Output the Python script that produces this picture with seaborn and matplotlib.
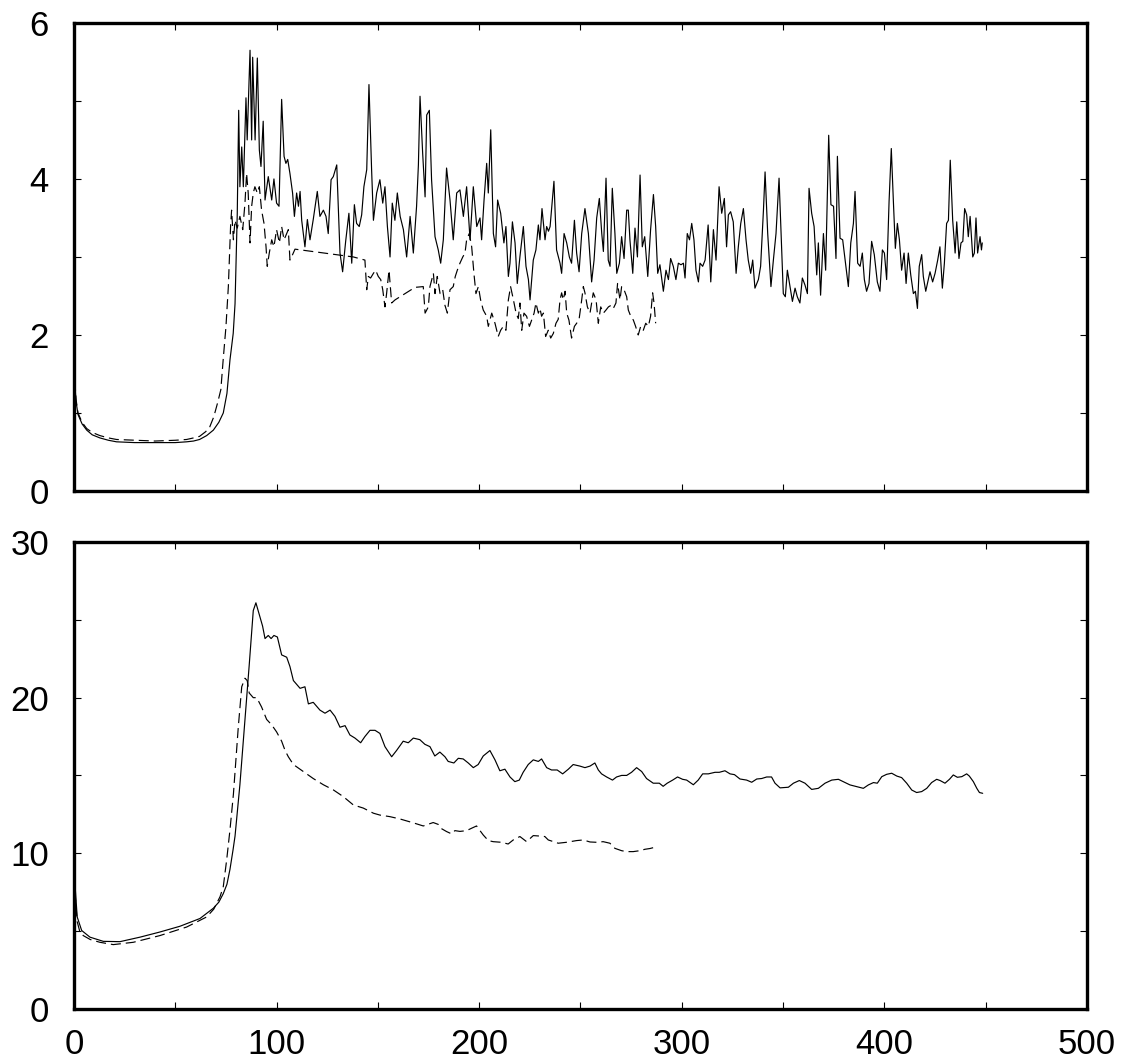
import numpy as np
import pandas as pd
import matplotlib
matplotlib.use("Agg")
import matplotlib.pyplot as plt
import seaborn as sns
from matplotlib.ticker import MultipleLocator

sns.set_theme(style="white")
plt.rcParams['font.family'] = ['Liberation Sans', 'DejaVu Sans']

# (x, y) points
top_solid = [
    (0, 1.75), (0.5, 1.35), (1, 1.15), (2, 0.98), (4, 0.86), (6.3, 0.78), (9, 0.72), (12.8, 0.68),
    (17, 0.65), (21, 0.63), (30, 0.62), (40, 0.62), (50, 0.62), (55.6, 0.63), (59, 0.64), (62, 0.66),
    (65.5, 0.71), (68.8, 0.78), (71.5, 0.88), (73.7, 1.0), (75.5, 1.25), (77, 1.68), (78.6, 2.02),
    (79.5, 2.4), (80.6, 3.56), (81.3, 4.88), (81.9, 3.9), (82.8, 4.41), (83.6, 3.9), (84.9, 5.04),
    (85.5, 4.5), (86.9, 5.65), (87.7, 4.5), (88.2, 5.56), (89.4, 4.5), (90.5, 5.55), (91.5, 4.37),
    (92.3, 4.16), (93.4, 4.74), (94.3, 3.73), (95.9, 4.03), (97.6, 3.73), (98.7, 4.0), (100, 3.69),
    (101.2, 3.65), (102.5, 5.02), (103.7, 4.29), (104.6, 4.2), (105.5, 4.25), (106.6, 4.07),
    (107.9, 3.82), (108.8, 3.52), (109.9, 3.82), (110.8, 3.65), (111.6, 3.84), (112.4, 3.47),
    (113.2, 3.3), (114, 3.13), (115.2, 3.48), (116.5, 3.22), (118.1, 3.48), (120.1, 3.84),
    (121.4, 3.52), (123.1, 3.6), (124.4, 3.52), (125.5, 3.3), (126.9, 3.99), (128, 4.03),
    (129.7, 4.18), (131.3, 3.05), (132.6, 2.81), (134.1, 3.2), (135.7, 3.56), (137.1, 2.92),
    (138.4, 3.67), (139.5, 3.43), (140.8, 3.39), (142, 3.54), (143.1, 3.9), (144.5, 4.12),
    (145.6, 5.21), (146.9, 4.12), (147.8, 3.47), (149.4, 3.82), (151, 3.99), (152.4, 3.69),
    (153.5, 3.9), (154.7, 3.39), (156, 3.0), (157.1, 3.69), (158.4, 3.47), (159.6, 3.82),
    (161, 3.52), (162.6, 3.35), (164.2, 3.0), (165.9, 3.52), (167.5, 3.05), (169.1, 3.65),
    (170, 4.18), (170.8, 5.06), (172.1, 4.33), (173.3, 3.77), (174.1, 4.82), (175.4, 4.88),
    (176.5, 3.99), (178.2, 3.26), (179.8, 3.09), (181, 2.92), (182.3, 3.22), (183.9, 4.14),
    (185.6, 3.73), (187.2, 3.22), (188.9, 3.82), (190.5, 3.86), (192.2, 3.52), (193.8, 3.9),
    (195.5, 3.22), (197.1, 3.9), (198.8, 3.39), (200.4, 3.5), (201.2, 3.22), (202.4, 3.73),
    (203.7, 4.2), (204.5, 3.82), (205.7, 4.63), (207, 3.3), (208.1, 3.13), (209.1, 3.73),
    (210.6, 3.56), (212.2, 3.18), (213.2, 3.39), (214.4, 2.75), (215.2, 2.92), (216.4, 3.45),
    (217.7, 3.18), (218.8, 2.66), (220.1, 3.0), (221.8, 3.39), (223.1, 2.88), (224.3, 2.71),
    (225.1, 2.45), (226.7, 2.96), (228, 3.09), (229.2, 3.41), (230, 3.22), (231, 3.62),
    (232.5, 3.22), (233.3, 3.39), (234.2, 3.33), (235, 3.39), (236.9, 3.97), (238.2, 3.09),
    (239.9, 2.92), (240.7, 2.79), (241.9, 3.3), (243.2, 3.18), (244.5, 3.0), (245.6, 2.92),
    (247, 3.47), (248.1, 3.05), (249.3, 2.81), (250.6, 3.3), (252.2, 3.62), (253.9, 3.3),
    (255.5, 2.68), (256.7, 2.96), (258, 3.5), (259.3, 3.75), (260.5, 3.3), (261.3, 3.07),
    (262.6, 4.01), (263.7, 2.96), (264.6, 2.88), (265.7, 3.88), (267, 3.3), (267.9, 2.79),
    (269.2, 2.92), (270.3, 3.26), (271.5, 2.98), (272.8, 3.6), (273.6, 3.6), (274.4, 3.22),
    (275.8, 2.79), (276.9, 3.37), (278.1, 3.0), (279.4, 4.05), (280.5, 3.13), (281.7, 3.26),
    (283.2, 2.75), (284.6, 3.35), (286, 3.8), (287.1, 3.39), (288.1, 2.79), (289.2, 2.9),
    (290.9, 2.56), (292.2, 2.83), (293.4, 2.71), (294.5, 2.98), (295.8, 2.88), (297.1, 2.71),
    (298.3, 2.92), (299.6, 2.9), (300.8, 2.92), (301.6, 2.73), (302.7, 3.3), (303.8, 3.22),
    (304.9, 3.43), (306, 3.22), (307, 2.83), (308.2, 2.68), (309, 2.92), (310.3, 2.88),
    (311.5, 2.96), (313, 3.41), (314.3, 2.68), (315.6, 3.35), (316.9, 2.96), (318.4, 3.9),
    (319.7, 3.56), (321, 3.75), (322.1, 3.13), (323, 3.54), (324.1, 3.58), (325.4, 3.45),
    (326.8, 2.79), (327.9, 3.13), (329.1, 3.43), (330.4, 3.62), (331.7, 3.22), (332.8, 2.96),
    (334, 2.79), (335, 2.96), (336.1, 2.6), (337.8, 2.71), (338.9, 2.88), (340.3, 3.6),
    (341.1, 4.09), (342.4, 3.3), (344, 2.62), (345.2, 2.96), (346.5, 3.3), (348, 4.01),
    (349, 3.3), (350.1, 2.53), (351.1, 2.49), (352.1, 2.83), (353.4, 2.62), (354.6, 2.43),
    (355.9, 2.6), (357, 2.49), (358.3, 2.41), (359.5, 2.73), (360.8, 2.64), (362, 2.53),
    (362.8, 3.88), (364.1, 3.56), (365.3, 3.39), (366.6, 2.77), (367.4, 3.18), (368.5, 2.51),
    (369.9, 3.3), (371, 2.83), (372.5, 4.56), (373.6, 3.67), (374.9, 3.65), (376.1, 2.98),
    (376.8, 4.29), (378.1, 3.24), (379.4, 3.22), (380.7, 2.94), (382.2, 2.62), (383.4, 3.18),
    (384.7, 3.43), (385.5, 3.84), (386.8, 2.92), (388, 2.88), (389.1, 3.05), (390.1, 2.71),
    (391.2, 2.56), (392.4, 2.66), (393.7, 3.2), (395, 3.03), (396.5, 2.68), (397.8, 2.56),
    (399, 3.09), (400, 3.05), (401.1, 2.71), (402.3, 3.71), (403.4, 4.39), (404.4, 3.73),
    (405.4, 3.11), (406.4, 3.43), (407.4, 3.22), (408.5, 2.83), (409.7, 3.05), (410.7, 2.66),
    (411.8, 3.05), (413, 2.77), (414.3, 2.53), (415.3, 2.56), (416.3, 2.34), (417.2, 2.88),
    (418.4, 3.03), (419.2, 2.75), (420.4, 2.56), (421.4, 2.68), (422.5, 2.81), (423.8, 2.68),
    (425, 2.79), (426.3, 2.96), (427.4, 3.13), (428.6, 2.6), (429.6, 2.92), (430.7, 3.43),
    (431.6, 3.47), (432.5, 4.24), (433.7, 3.47), (434.9, 3.05), (435.7, 3.45), (436.8, 2.98),
    (437.8, 3.18), (438.7, 3.2), (439.6, 3.62), (440.6, 3.54), (441.4, 3.26), (442.3, 3.52),
    (443.6, 3.0), (444.4, 3.05), (445.2, 3.5), (446, 3.05), (447.2, 3.26), (447.9, 3.09),
    (448.3, 3.18),
]

top_dashed = [
    (0, 1.8), (0.5, 1.4), (1, 1.18), (2, 1.0), (4, 0.88), (6.3, 0.8), (9, 0.75), (12.8, 0.71),
    (17, 0.68), (21, 0.66), (30, 0.65), (40, 0.64), (50, 0.65), (55.6, 0.66), (59, 0.68),
    (62, 0.7), (65, 0.76), (67, 0.82), (69, 0.95), (71, 1.14), (72.5, 1.3), (73.7, 1.7),
    (75, 2.1), (76.2, 2.62), (77.3, 3.39), (77.8, 3.6), (78.7, 3.22), (79.5, 3.47), (80.6, 3.37),
    (81.9, 3.52), (83.3, 3.35), (84.4, 3.69), (85.2, 4.07), (86, 3.82), (86.9, 3.18), (87.7, 3.65),
    (88.5, 3.82), (89.3, 3.9), (90.5, 3.82), (91.5, 3.9), (92.6, 3.6), (93.8, 3.43), (94.8, 3.13),
    (95.4, 2.88), (96.4, 3.05), (97.6, 3.22), (98.7, 3.13), (100, 3.35), (101.4, 3.18),
    (102.5, 3.39), (103.7, 3.22), (105, 3.3), (105.8, 3.35), (106.6, 2.96), (107.4, 3.0),
    (109.1, 3.1), (137.9, 3.0), (143.6, 2.96), (144.5, 2.58), (145.3, 2.75), (146.4, 2.73),
    (147.8, 2.79), (148.9, 2.83), (150.2, 2.75), (151.4, 2.71), (152.4, 2.58), (153.5, 2.36),
    (154.3, 2.53), (155.5, 2.83), (156.8, 2.41), (158.5, 2.45), (163.4, 2.53), (168.3, 2.61),
    (172.4, 2.62), (173.3, 2.28), (174.9, 2.36), (175.7, 2.62), (177.4, 2.79), (178.2, 2.53),
    (179.3, 2.75), (180.7, 2.53), (182, 2.58), (183.1, 2.38), (184.3, 2.28), (185.6, 2.58),
    (187.2, 2.62), (188.2, 2.75), (189.2, 2.83), (190.5, 2.92), (191.9, 3.0), (193, 3.05),
    (193.8, 3.22), (195.1, 3.3), (196.3, 3.13), (197.4, 2.79), (198.4, 2.53), (199.6, 2.62),
    (200.7, 2.45), (202, 2.32), (203.7, 2.24), (204.5, 2.11), (206.2, 2.28), (207.8, 2.15),
    (209.4, 1.98), (210.6, 2.06), (211.9, 2.11), (213.2, 2.06), (214.4, 2.45), (215.5, 2.62),
    (216.9, 2.45), (218.2, 2.28), (219.3, 2.21), (220.1, 2.41), (221, 2.06), (222.1, 2.28),
    (223.4, 2.24), (224.8, 2.11), (225.9, 2.19), (227.1, 2.28), (228, 2.41), (229.2, 2.28),
    (230, 2.34), (230.8, 2.24), (231.7, 2.28), (232.8, 1.98), (234.1, 2.06), (235.3, 1.96),
    (236.6, 2.02), (237.9, 2.15), (239, 2.2), (239.9, 2.45), (240.7, 2.54), (241.5, 2.45),
    (242.4, 2.56), (243.2, 2.28), (244.3, 2.19), (245.6, 1.96), (247, 2.11), (248.1, 2.15),
    (249.3, 2.2), (250.6, 2.45), (251.4, 2.62), (252.2, 2.54), (253.4, 2.36), (254.7, 2.28),
    (256.3, 2.54), (257.7, 2.45), (258.8, 2.15), (260, 2.36), (261.3, 2.28), (262.6, 2.32),
    (263.8, 2.36), (265.1, 2.38), (266.2, 2.34), (267.5, 2.41), (268.3, 2.66), (269.5, 2.45),
    (270.3, 2.62), (271.5, 2.58), (272.8, 2.49), (273.6, 2.32), (274.8, 2.24), (276.1, 2.19),
    (277.2, 2.11), (278.5, 2.0), (279.7, 2.11), (281, 2.06), (282.2, 2.15), (283.5, 2.11),
    (284.6, 2.24), (285.6, 2.54), (286.3, 2.41), (287.1, 2.15),
]

bottom_solid = [
    (0, 8.9), (0.5, 8.0), (1.6, 5.9), (3.8, 5.03), (7.9, 4.6), (14.5, 4.33), (22.7, 4.31),
    (32.6, 4.6), (42.4, 4.93), (52.3, 5.3), (62.2, 5.8), (68.8, 6.46), (71.5, 6.85), (73.7, 7.4),
    (75.5, 8.0), (77, 8.96), (78.5, 10.2), (79.5, 11.1), (81.9, 14.4), (84.4, 18.6), (86.5, 22.1),
    (88.5, 25.6), (89.8, 26.1), (91.8, 25.2), (93.1, 24.6), (94.3, 23.8), (95.9, 24.0),
    (97.3, 23.8), (98.7, 24.0), (100.4, 23.9), (102.5, 22.75), (105, 22.6), (106.6, 22.0),
    (108.3, 21.1), (111.6, 20.6), (114, 20.7), (115.7, 19.6), (118.1, 19.7), (121.4, 19.2),
    (123.9, 19.0), (126.4, 19.2), (128.8, 18.8), (131.3, 18.1), (133.8, 18.2), (136.2, 17.6),
    (138.7, 17.4), (141.5, 17.1), (143.6, 17.5), (146.1, 17.9), (148.6, 17.9), (151, 17.7),
    (153.5, 16.85), (156.8, 16.2), (159.2, 16.6), (162.5, 17.2), (165, 17.1), (167.5, 17.4),
    (170.7, 17.3), (173.2, 17.0), (175.7, 16.85), (178.1, 16.25), (180.6, 16.5), (183.1, 16.2),
    (184.7, 15.9), (187.5, 15.8), (189.7, 16.1), (192.1, 16.06), (194.6, 15.8), (197.1, 15.5),
    (199.5, 15.7), (202, 16.25), (205.3, 16.6), (207.8, 16.0), (210.2, 15.3), (212.7, 15.4),
    (215.2, 14.9), (217.6, 14.6), (219.8, 14.7), (221.7, 15.2), (224.2, 15.7), (226.7, 16.0),
    (229.2, 15.9), (230.8, 16.06), (233.3, 15.5), (235.7, 15.35), (238.5, 15.35), (241.2, 15.1),
    (244, 15.4), (246.4, 15.7), (249.7, 15.6), (252.2, 15.5), (254.7, 15.6), (257.1, 15.8),
    (258.8, 15.35), (260.4, 15.1), (262.9, 14.9), (265.8, 14.7), (267.8, 14.9), (270.3, 15.0),
    (272.8, 15.0), (275.2, 15.2), (277.7, 15.5), (280.2, 15.25), (282.6, 14.8), (285.9, 14.5),
    (288.9, 14.5), (290.8, 14.3), (292.8, 14.5), (295.5, 14.7), (297.9, 14.9), (300.4, 14.75),
    (302.4, 14.7), (305.7, 14.4), (308.1, 14.7), (310.3, 15.1), (313.1, 15.1), (316.4, 15.2),
    (318.5, 15.2), (321.3, 15.3), (323.8, 15.1), (326, 15.05), (328.7, 14.77), (332, 14.7),
    (334.5, 14.56), (337, 14.77), (339.4, 14.8), (341.9, 14.9), (344.3, 14.9), (346, 14.5),
    (348.5, 14.2), (352.6, 14.24), (355.1, 14.5), (358, 14.67), (360.8, 14.5), (364.1, 14.1),
    (367.4, 14.17), (370.7, 14.5), (374, 14.7), (377.3, 14.75), (379.7, 14.6), (383, 14.39),
    (386.3, 14.28), (389.6, 14.17), (392.1, 14.39), (394.6, 14.54), (396.5, 14.5), (398.7, 14.92),
    (401.1, 15.07), (403.6, 15.14), (406.1, 14.96), (408.5, 14.86), (411, 14.5), (413.5, 14.06),
    (415.9, 13.9), (418.4, 13.96), (420.9, 14.17), (423.3, 14.54), (425.8, 14.75), (427.5, 14.67),
    (429.9, 14.5), (432.1, 14.75), (434, 15.03), (436, 14.88), (438.2, 14.92), (440.6, 15.1),
    (441.9, 14.96), (443.9, 14.6), (445.6, 14.17), (446.9, 13.9), (448.5, 13.85),
]

bottom_dashed = [
    (0, 8.5), (0.5, 7.5), (1.6, 5.6), (2.8, 5.0), (4.6, 4.7), (8, 4.45), (12.8, 4.27),
    (19.4, 4.12), (29.3, 4.27), (42.4, 4.7), (55.6, 5.25), (65.5, 5.9), (69, 6.4), (72.1, 7.2),
    (73.7, 7.85), (75.4, 9.6), (77, 11.5), (78.7, 13.8), (81.1, 18.1), (82.8, 20.7),
    (84.4, 21.25), (85.5, 21.1), (86.5, 20.3), (88.5, 20.0), (90.2, 20.0), (92.6, 19.4),
    (95.1, 18.6), (97.6, 18.25), (100, 17.8), (102.5, 17.2), (104.2, 16.6), (105.8, 16.2),
    (108.3, 15.7), (113.2, 15.25), (118.1, 14.8), (123.1, 14.4), (128, 14.07), (132.9, 13.64),
    (137.9, 13.1), (142.8, 12.9), (147.8, 12.57), (151, 12.45), (155.9, 12.35), (160.9, 12.2),
    (167.5, 11.95), (172.4, 11.75), (177.3, 11.97), (179.8, 11.85), (181.1, 11.6),
    (183.9, 11.39), (186.4, 11.24), (188, 11.45), (190.5, 11.4), (193.8, 11.45), (196.2, 11.6),
    (198.7, 11.75), (202, 11.17), (204.5, 10.81), (206.9, 10.74), (211, 10.7), (214.3, 10.59),
    (216.8, 10.85), (220.1, 11.07), (223.4, 10.74), (226.7, 11.13), (230, 11.1), (232.4, 11.07),
    (234.1, 10.85), (239, 10.64), (243.1, 10.7), (248.1, 10.81), (251.4, 10.85), (254.7, 10.72),
    (257.9, 10.7), (261.2, 10.74), (264.5, 10.64), (267, 10.31), (270.3, 10.16), (272.7, 10.1),
    (276, 10.1), (279.3, 10.16), (281.8, 10.25), (284.3, 10.3), (286.7, 10.38),
]

x_ticks = [0, 100, 200, 300, 400, 500]
top_yticks = [0, 2, 4, 6]
bottom_yticks = [0, 10, 20, 30]

fig = plt.figure(figsize=(11.24, 10.62), dpi=100)
ax1 = fig.add_axes([0.0658, 0.5377, 0.9013, 0.4407])
ax2 = fig.add_axes([0.0658, 0.0502, 0.9013, 0.4393])


def draw(ax, pts, dashed):
    d = pd.DataFrame(pts, columns=["x", "y"])
    ls = (0, (8.5, 4.2)) if dashed else "-"
    sns.lineplot(data=d, x="x", y="y", ax=ax, color="black", lw=0.85,
                 linestyle=ls, sort=False, estimator=None)


draw(ax1, top_solid, False)
draw(ax1, top_dashed, True)
draw(ax2, bottom_solid, False)
draw(ax2, bottom_dashed, True)

for ax, yt, minor in [(ax1, top_yticks, 1), (ax2, bottom_yticks, 5)]:
    ax.set_xlim(0, 500)
    ax.set_ylim(yt[0], yt[-1])
    ax.set_xticks(x_ticks)
    ax.set_yticks(yt)
    ax.xaxis.set_minor_locator(MultipleLocator(50))
    ax.yaxis.set_minor_locator(MultipleLocator(minor))
    ax.set_xlabel("")
    ax.set_ylabel("")
    ax.tick_params(which="both", direction="in", top=True, right=True, bottom=True, left=True,
                   length=5, width=0.8, color="black", labelsize=25, labelcolor="black")
    ax.tick_params(axis="y", pad=18)
    ax.tick_params(axis="x", pad=14)
    for s in ax.spines.values():
        s.set_linewidth(2.4)
        s.set_color("black")

ax1.tick_params(labelbottom=False)

fig.savefig("out.png", dpi=100)
